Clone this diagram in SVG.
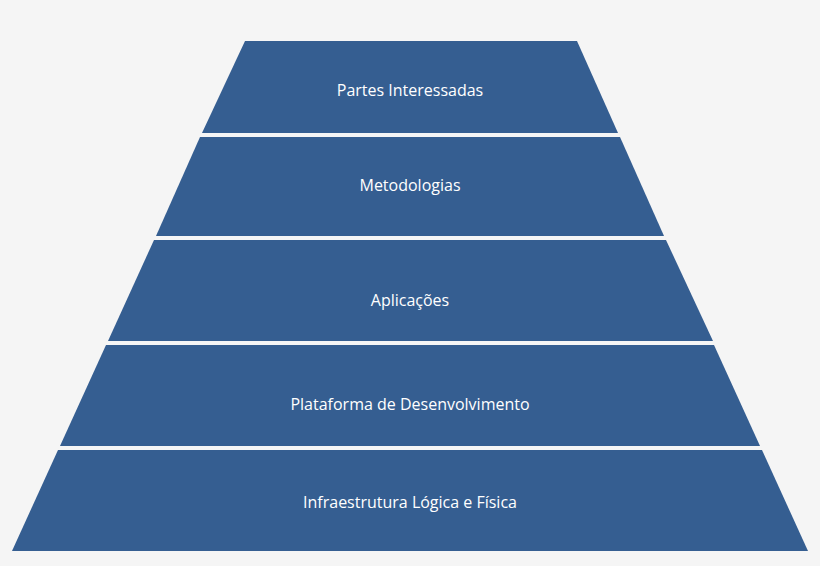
<svg xmlns="http://www.w3.org/2000/svg" width="820" height="566" viewBox="0 0 820 566">
<style>
.l{fill:#355e91}
.t{fill:#ffffff;font-family:"Open Sans","Liberation Sans",sans-serif;font-size:16px;text-anchor:middle}
</style>
<rect width="820" height="566" fill="#f5f5f5"/>
<g id="n1"><polygon class="l" points="245,41 577,41 618,133 202,133"/><text class="t" x="410" y="96">Partes Interessadas</text></g>
<g id="n2"><polygon class="l" points="200,137 620,137 664,236 156,236"/><text class="t" x="410" y="191">Metodologias</text></g>
<g id="n3"><polygon class="l" points="154,240 666,240 713,341 108,341"/><text class="t" x="410" y="306">Aplicações</text></g>
<g id="n4"><polygon class="l" points="106,345 714,345 760,446 60,446"/><text class="t" x="410" y="410">Plataforma de Desenvolvimento</text></g>
<g id="n5"><polygon class="l" points="58,450 762,450 808,551 12,551"/><text class="t" x="410" y="508">Infraestrutura Lógica e Física</text></g>
<g id="connectors"></g>
</svg>
